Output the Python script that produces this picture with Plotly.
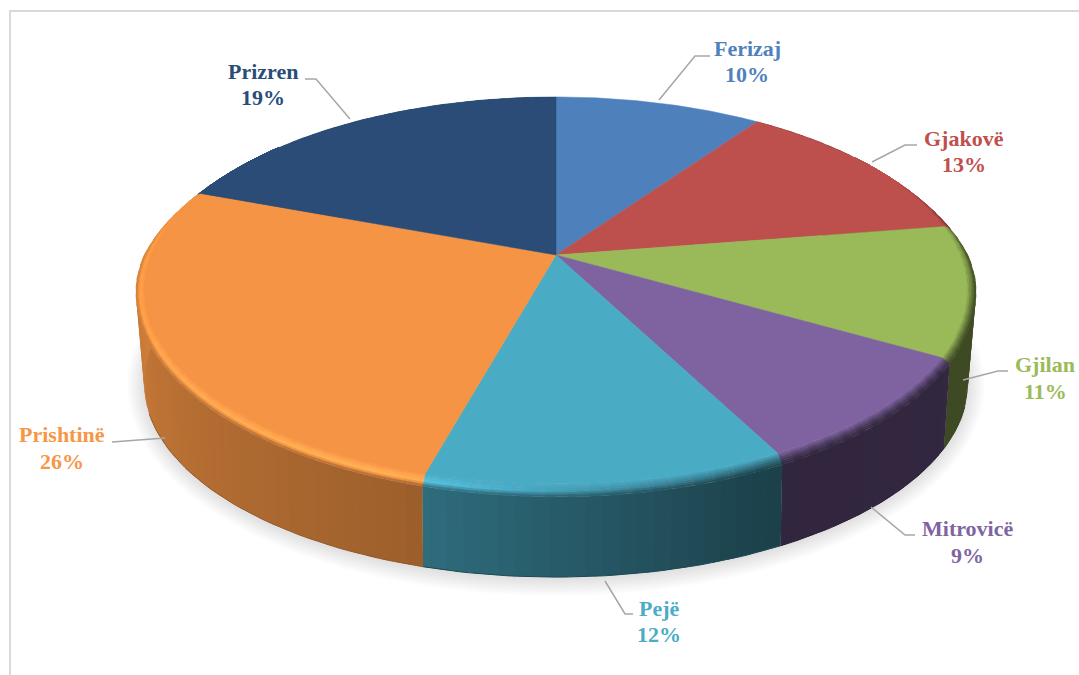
import numpy as np
import plotly.graph_objects as go

# ---- data ----
categories = ["Ferizaj", "Gjakovë", "Gjilan", "Mitrovicë", "Pejë", "Prishtinë", "Prizren"]
values = [9.7, 12.8, 10.8, 9.1, 11.9, 26.4, 19.3]
colors = ["#4e80bc", "#bd4f4c", "#9aba59", "#7f63a1", "#4aabc5", "#f49444", "#2a4c77"]
text_colors = ["#4f81bd", "#c0504d", "#9bbb59", "#8064a2", "#4bacc6", "#f79646", "#2a4d78"]
label_x = [747, 964, 1045, 967, 659, 62, 263]
name_y = [48, 138, 364, 528, 608, 434, 71]
pct_y = [74, 164, 391, 555, 634, 461, 97]
leader_x = [[659, 695, 710], [872, 905, 917], [963, 998, 1008], [871, 905, 915],
            [605, 625, 633], [165, 120, 112], [350, 316, 305]]
leader_y = [[100, 56, 56], [162, 145, 145], [380, 371, 371], [507, 535, 535],
            [581, 614, 614], [438, 442, 442], [119, 79, 79]]

# ---- projection of the tilted disc onto the page ----
CX, CY, A, B, K = 556.0, 255.0, 404.0, 187.0, 0.183
BA, BB, BK = 410.0, 189.0, 0.196
EY, SC, DROP = 293.0, 0.985, 90.0
RIM_X, RIM_Y = 10.0, 13.0


def face(theta_deg):
    t = np.radians(theta_deg)
    u, v = np.sin(t), np.cos(t)
    w = 1 + K * v
    return CX + A * u / w, CY - B * v / w


def rim(theta_deg, s=1.0):
    """Point s of the way from the flat face out to the outer silhouette."""
    t = np.radians(theta_deg)
    u, v = np.sin(t), np.cos(t)
    g = np.interp(v, [-1, 0, .5, 1], [1, .9, 0, 0])
    x, y = face(theta_deg)
    return x + s * RIM_X * u * g, y + s * RIM_Y * np.maximum(-v, .0) * g + s * 3 * g * (v > -.1)


def bottom(theta_deg):
    t = np.radians(theta_deg)
    u, v = np.sin(t), np.cos(t)
    w = 1 + BK * v
    x, y = CX + BA * u / w, CY - BB * v / w
    return CX + SC * (x - CX), EY + SC * (y - EY) + DROP


def rgb(h):
    return np.array([int(h[i:i + 2], 16) for i in (1, 3, 5)], dtype=float)


def css(c):
    c = np.clip(c, 0, 255)
    return f"rgb({c[0]:.0f},{c[1]:.0f},{c[2]:.0f})"


def side_shade(a):
    return np.interp(a, [0, 120, 155, 198, 270, 360], [.4, .4, .38, .65, .85, .85])


def rim_gain(a):
    return np.interp(a, [0, 70, 105, 150, 175, 200, 270, 296, 360],
                     [1, 1, .62, .55, .85, 1.22, 1.08, 1, 1])


def edge_blend(a):
    return np.interp(np.cos(np.radians(a)), [0, .45], [1, 0])


def poly(fig, x, y, color, lw=0.8):
    x, y = list(x), list(y)
    fig.add_trace(go.Scatter(x=x + x[:1], y=y + y[:1], mode="lines", fill="toself",
                             fillcolor=color, line=dict(color=color, width=lw),
                             hoverinfo="skip", showlegend=False))


fig = go.Figure()

# soft shadow under the disc
ang = np.linspace(0, 360, 181)
bx, by = bottom(ang)
for grow in np.linspace(17, 1, 10):
    sx = CX + (bx - CX) * (1 + grow / 410)
    sy = EY + DROP + (by - EY - DROP) * (1 + grow / 195) + 2
    poly(fig, sx, sy, "rgba(0,0,0,0.0105)", lw=0)

cum = np.concatenate([[0], np.cumsum(values)]) / np.sum(values) * 360

# sides: each strip runs a little under the next, so no seam shows
for i in range(len(values)):
    a0, a1 = cum[i], cum[i + 1]
    if a1 < 60 or a0 > 300:
        continue
    edges = np.arange(a0, a1 + 0.01, 2.0)
    if edges[-1] < a1:
        edges = np.append(edges, a1)
    for s, e in zip(edges[:-1], edges[1:]):
        aa = np.linspace(s, min(e + 1.0, a1), 3)
        tx, ty = rim(aa)
        ux, uy = bottom(aa[::-1])
        poly(fig, np.r_[tx, ux], np.r_[ty, uy], css(rgb(colors[i]) * side_shade((s + e) / 2)), lw=0)
    # thin dark edge along the visible part of the bottom
    b0, b1 = max(a0, 108), min(a1, 250)
    if b1 > b0:
        ux, uy = bottom(np.linspace(b0, b1, 40))
        fig.add_trace(go.Scatter(x=ux, y=uy, mode="lines", hoverinfo="skip", showlegend=False,
                                 line=dict(color=css(rgb(colors[i]) * side_shade((b0 + b1) / 2) * .85), width=1.0)))

# bevelled rim
levels = np.linspace(0, 1, 7)
for i in range(len(values)):
    a0, a1 = max(cum[i], 55), min(cum[i + 1], 310)
    if a1 <= a0:
        continue
    edges = np.arange(a0, a1 + 0.01, 2.5)
    if edges[-1] < a1:
        edges = np.append(edges, a1)
    base = rgb(colors[i])
    for s, e in zip(edges[:-1], edges[1:]):
        m = (s + e) / 2
        gain = rim_gain(m)
        shade = side_shade(m)
        blend = edge_blend(m)
        for j, (r0, r1) in enumerate(zip(levels[:-1], levels[1:])):
            t = (j + .5) / (len(levels) - 1)
            if t < .6:
                c = base * (1 + (gain - 1) * t / .6)
            else:
                f = (t - .6) / .4 * blend
                c = base * (gain * (1 - f) + shade * f)
            aa = np.linspace(s, min(e + 1.0, a1), 3)
            x0, y0 = rim(aa, r0)
            x1, y1 = rim(aa[::-1], r1)
            poly(fig, np.r_[x0, x1], np.r_[y0, y1], css(c), lw=0.5)

# top faces
for i in range(len(values)):
    aa = np.linspace(cum[i], cum[i + 1], 80)
    x, y = face(aa)
    poly(fig, np.r_[CX, x], np.r_[CY, y], colors[i], lw=0.5)

# leader lines
for lx, ly in zip(leader_x, leader_y):
    fig.add_trace(go.Scatter(x=lx, y=ly, mode="lines", hoverinfo="skip", showlegend=False,
                             line=dict(color="#a6a6a6", width=1.5)))

# data labels
total = float(np.sum(values))
for i, name in enumerate(categories):
    font = dict(family="Liberation Serif", size=22, color=text_colors[i])
    fig.add_annotation(x=label_x[i], y=name_y[i], xref="x", yref="y", showarrow=False,
                       text=f"<b>{name}</b>", font=font)
    fig.add_annotation(x=label_x[i], y=pct_y[i], xref="x", yref="y", showarrow=False,
                       text=f"<b>{round(values[i] / total * 100)}%</b>", font=font)

# frame
fig.add_shape(type="path", path="M 10 675 L 10 11 L 1079 11", xref="x", yref="y",
              line=dict(color="#d9d9d9", width=2))

fig.update_layout(width=1079, height=675, margin=dict(l=0, r=0, t=0, b=0),
                  paper_bgcolor="white", plot_bgcolor="white", showlegend=False,
                  xaxis=dict(range=[0, 1079], visible=False, fixedrange=True),
                  yaxis=dict(range=[675, 0], visible=False, fixedrange=True))
fig.write_html("out.html", config={"displayModeBar": False},
               post_script="document.body.style.margin='0';"
                           "document.body.style.overflow='hidden';"
                           "document.documentElement.style.overflow='hidden';")
